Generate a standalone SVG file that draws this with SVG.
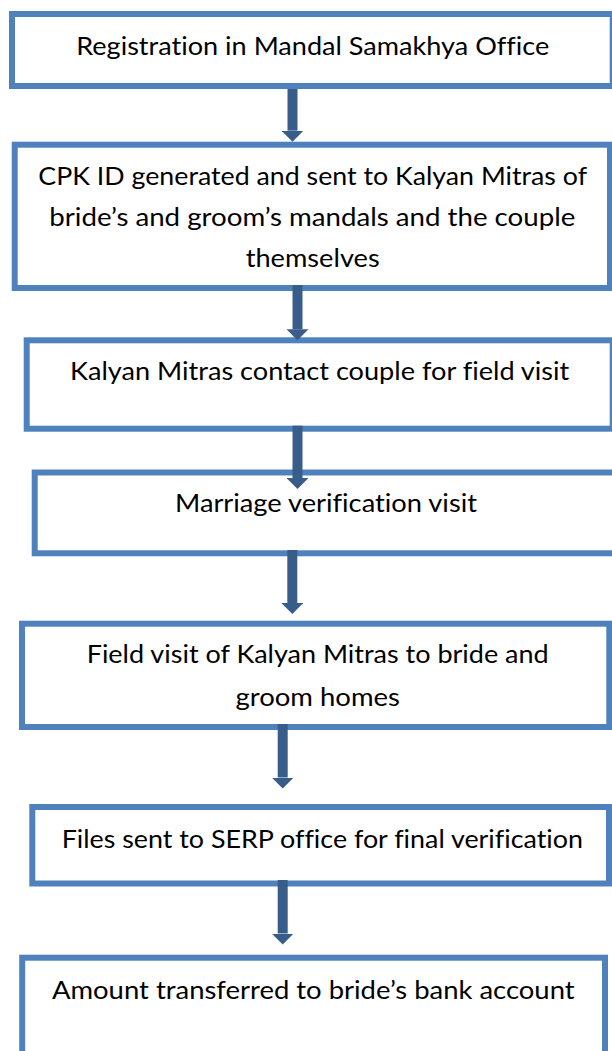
<svg xmlns="http://www.w3.org/2000/svg" width="612" height="1051" viewBox="0 0 612 1051">
<style>
.box{fill:#FFFFFF;stroke:#4F81BD;stroke-width:6}
.lbl{font-family:Lato,"Liberation Sans",sans-serif;font-size:25.5px;fill:#000000;text-anchor:middle;font-variant-ligatures:none;font-feature-settings:"liga" 0}
.conn{stroke:#385D8A;stroke-width:10;fill:none;marker-end:url(#head)}
</style>
<defs>
<marker id="head" markerUnits="userSpaceOnUse" viewBox="0 -11 11 22" refX="0" refY="0" markerWidth="11" markerHeight="22" orient="auto">
<path d="M0,-11 L11,0 L0,11 Z" fill="#385D8A"/>
</marker>
</defs>
<rect x="0" y="0" width="612" height="1051" fill="#FFFFFF"/>
<g id="node1">
<rect class="box" x="12" y="14" width="600.7" height="72"/>
<text class="lbl" x="312.7" y="55" textLength="473" lengthAdjust="spacingAndGlyphs">Registration in Mandal Samakhya Office</text>
</g>
<g id="node2">
<rect class="box" x="14.7" y="144.7" width="595.3" height="143.3"/>
<text class="lbl" x="312.7" y="185" textLength="548.7" lengthAdjust="spacingAndGlyphs">CPK ID generated and sent to Kalyan Mitras of</text>
<text class="lbl" x="312.3" y="226" textLength="526" lengthAdjust="spacingAndGlyphs">bride’s and groom’s mandals and the couple</text>
<text class="lbl" x="312.7" y="267" textLength="134" lengthAdjust="spacingAndGlyphs">themselves</text>
</g>
<g id="node3">
<rect class="box" x="26.7" y="340.3" width="586" height="88.4"/>
<text class="lbl" x="319.7" y="380" textLength="499.3" lengthAdjust="spacingAndGlyphs">Kalyan Mitras contact couple for field visit</text>
</g>
<g id="node4">
<rect class="box" x="34.7" y="472.5" width="583.3" height="80.8"/>
<text class="lbl" x="326" y="512" textLength="302" lengthAdjust="spacingAndGlyphs">Marriage verification visit</text>
</g>
<g id="node5">
<rect class="box" x="22" y="623.7" width="587.3" height="103.3"/>
<text class="lbl" x="317.7" y="663.3" textLength="462" lengthAdjust="spacingAndGlyphs">Field visit of Kalyan Mitras to bride and</text>
<text class="lbl" x="317.7" y="706.3" textLength="164.6" lengthAdjust="spacingAndGlyphs">groom homes</text>
</g>
<g id="node6">
<rect class="box" x="32.3" y="807" width="576.7" height="76.5"/>
<text class="lbl" x="322.3" y="848" textLength="521.3" lengthAdjust="spacingAndGlyphs">Files sent to SERP office for final verification</text>
</g>
<g id="node7">
<rect class="box" x="22.2" y="957.7" width="582.8" height="110"/>
<text class="lbl" x="313.3" y="999.3" textLength="522.7" lengthAdjust="spacingAndGlyphs">Amount transferred to bride’s bank account</text>
</g>
<g id="connectors">
<line class="conn" x1="292.5" y1="89" x2="292.5" y2="130.7"/>
<line class="conn" x1="297.5" y1="285" x2="297.5" y2="329.3"/>
<line class="conn" x1="297.5" y1="425.7" x2="297.5" y2="478"/>
<line class="conn" x1="292.3" y1="550" x2="292.3" y2="603"/>
<line class="conn" x1="282.7" y1="724" x2="282.7" y2="777.5"/>
<line class="conn" x1="282.7" y1="880" x2="282.7" y2="933.5"/>
</g>
</svg>
